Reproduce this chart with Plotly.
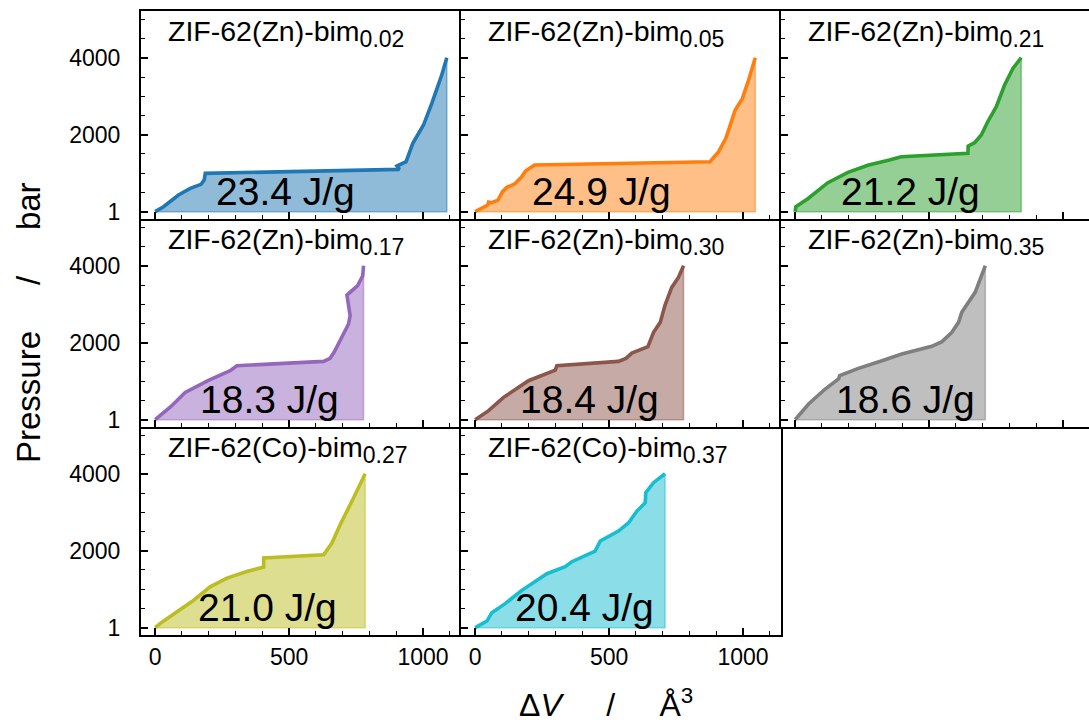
import plotly.graph_objects as go

# ---- data: volume change (Å^3) vs. pressure (bar) for each framework ----
formulas = ["ZIF-62(Zn)-bim", "ZIF-62(Zn)-bim", "ZIF-62(Zn)-bim", "ZIF-62(Zn)-bim",
            "ZIF-62(Zn)-bim", "ZIF-62(Zn)-bim", "ZIF-62(Co)-bim", "ZIF-62(Co)-bim"]
bim_fraction = ["0.02", "0.05", "0.21", "0.17", "0.30", "0.35", "0.27", "0.37"]
energies = ["23.4 J/g", "24.9 J/g", "21.2 J/g", "18.3 J/g", "18.4 J/g", "18.6 J/g", "21.0 J/g", "20.4 J/g"]
colors = ["#1f77b4", "#ff7f0e", "#2ca02c", "#9467bd", "#8c564b", "#7f7f7f", "#bcbd22", "#17becf"]

dv_zn002 = [0, 31, 87, 131, 171, 183, 187, 529, 912, 903, 937, 962, 1002, 1033, 1052, 1070, 1089]
p_zn002 = [1, 130, 433, 606, 710, 823, 996, 1040, 1100, 1186, 1299, 1775, 2252, 2815, 3161, 3551, 4000]

dv_zn005 = [0, 31, 47, 50, 62, 85, 102, 118, 147, 172, 189, 222, 877, 909, 936, 971, 998, 1021, 1046]
p_zn005 = [1, 113, 173, 250, 234, 303, 520, 632, 719, 892, 1065, 1212, 1299, 1559, 1905, 2641, 2944, 3421, 4000]

dv_zn021 = [0, 2, 47, 122, 197, 271, 352, 396, 645, 646, 670, 695, 719, 751, 782, 813, 844]
p_zn021 = [1, 130, 338, 753, 1022, 1204, 1342, 1429, 1516, 1707, 1793, 1992, 2338, 2728, 3291, 3724, 4000]

dv_zn017 = [0, 58, 112, 199, 280, 305, 629, 653, 668, 685, 703, 722, 728, 716, 756, 775, 778]
p_zn017 = [1, 338, 710, 1022, 1273, 1403, 1516, 1594, 1750, 1966, 2226, 2486, 2702, 3239, 3482, 3741, 4000]

dv_zn030 = [0, 50, 106, 199, 299, 305, 535, 563, 585, 645, 666, 691, 709, 734, 759, 778]
p_zn030 = [1, 234, 580, 1013, 1290, 1403, 1516, 1594, 1732, 1897, 2269, 2529, 2979, 3438, 3698, 4000]

dv_zn035 = [0, 50, 112, 162, 166, 236, 324, 398, 510, 548, 585, 610, 622, 672, 710]
p_zn035 = [1, 407, 797, 1057, 1144, 1334, 1533, 1707, 1906, 2027, 2269, 2529, 2789, 3309, 4000]

dv_co027 = [0, 19, 68, 137, 205, 268, 342, 405, 405, 629, 660, 691, 741, 784]
p_co027 = [1, 113, 348, 679, 1062, 1288, 1462, 1575, 1810, 1897, 2201, 2680, 3376, 4000]

dv_co037 = [0, 44, 62, 112, 174, 268, 336, 361, 448, 467, 535, 573, 604, 635, 637, 666, 709]
p_co037 = [1, 173, 390, 624, 970, 1403, 1585, 1715, 1992, 2252, 2512, 2728, 3031, 3248, 3508, 3768, 4000]

dv_series = [dv_zn002, dv_zn005, dv_zn021, dv_zn017, dv_zn030, dv_zn035, dv_co027, dv_co037]
p_series = [p_zn002, p_zn005, p_zn021, p_zn017, p_zn030, p_zn035, p_co027, p_co037]

# energy label centres (Å^3) inside each panel
label_x = [485, 472, 430, 426, 425, 411, 419, 407]
label_p = 534

x_ticks = [0, 500, 1000]
y_ticks = [1, 2000, 4000]
y_ticktext = ["1", "2000", "4000"]

# ---- layout geometry (pixels) ----
W, H = 1089, 723
ML, MT, MB = 141, 11, 88
plot_w = W - ML
plot_h = H - MT - MB
col_w = 320
row_h = plot_h / 3
x_min = -53
px_per_dv = col_w / 1195.0
y_range = [-190, 5215]

FONT = "Liberation Sans, Arial, sans-serif"
SP = "\u00a0"


def rgba(hex_color, a):
    h = hex_color.lstrip("#")
    r, g, b = int(h[0:2], 16), int(h[2:4], 16), int(h[4:6], 16)
    return f"rgba({r},{g},{b},{a})"


fig = go.Figure()
layout = dict(
    width=W, height=H,
    margin=dict(l=ML, r=0, t=MT, b=MB, pad=0),
    paper_bgcolor="white", plot_bgcolor="white",
    showlegend=False,
    font=dict(family=FONT, color="black"),
)
annotations = []

for i in range(8):
    row, col = divmod(i, 3)
    n = i + 1
    xa = "xaxis" if n == 1 else f"xaxis{n}"
    ya = "yaxis" if n == 1 else f"yaxis{n}"
    xr = "x" if n == 1 else f"x{n}"
    yr = "y" if n == 1 else f"y{n}"

    x0 = col * col_w
    x1 = min(x0 + col_w, plot_w)
    width_px = x1 - x0
    xd = [x0 / plot_w, x1 / plot_w]
    yd = [1 - (row + 1) * row_h / plot_h, 1 - row * row_h / plot_h]
    x_rng = [x_min, x_min + width_px / px_per_dv]

    show_x_labels = row == 2
    show_y_labels = col == 0
    # frame edges shared with a neighbouring panel are drawn only once
    top_edge = row == 0
    right_edge = (i == 7)

    layout[xa] = dict(
        domain=xd, range=x_rng, anchor=yr,
        showline=True, linewidth=2, linecolor="black", mirror=top_edge,
        ticks="inside", ticklen=7, tickwidth=1.6, tickcolor="black",
        tickvals=x_ticks, showticklabels=show_x_labels,
        tickfont=dict(size=23, family=FONT, color="black"),
        ticklabelstandoff=0,
        minor=dict(tickvals=list(range(0, 1200, 100)), ticks="inside", ticklen=4,
                   tickwidth=1.4, tickcolor="black", showgrid=False),
        showgrid=False, zeroline=False,
    )
    layout[ya] = dict(
        domain=yd, range=y_range, anchor=xr,
        showline=True, linewidth=2, linecolor="black", mirror=right_edge,
        ticks="inside", ticklen=7, tickwidth=1.6, tickcolor="black",
        tickvals=y_ticks, ticktext=y_ticktext, showticklabels=show_y_labels,
        tickfont=dict(size=23, family=FONT, color="black"),
        ticklabelstandoff=14,
        minor=dict(tickvals=list(range(0, 5500, 500)), ticks="inside", ticklen=4,
                   tickwidth=1.4, tickcolor="black", showgrid=False),
        showgrid=False, zeroline=False,
    )

    dv = dv_series[i]
    p = p_series[i]
    c = colors[i]

    # shaded area between the curve and p = 1 bar
    fig.add_trace(go.Scatter(
        x=dv + [dv[-1], dv[0], dv[0]], y=p + [1, 1, p[0]],
        xaxis=xr, yaxis=yr, mode="lines", fill="toself",
        fillcolor=rgba(c, 0.5), line=dict(color=rgba(c, 0.5), width=1.5),
        hoverinfo="skip",
    ))
    # compression curve
    fig.add_trace(go.Scatter(
        x=dv, y=p, xaxis=xr, yaxis=yr, mode="lines",
        line=dict(color=c, width=3.6),
    ))

    title = (f"{formulas[i]}<sub><span style='font-size:23px'>{bim_fraction[i]}</span></sub>")
    annotations.append(dict(
        x=40, y=4640, xref=xr, yref=yr, text=title, showarrow=False,
        xanchor="left", yanchor="middle", font=dict(size=28.5, family=FONT, color="black"),
    ))
    annotations.append(dict(
        x=label_x[i], y=label_p, xref=xr, yref=yr, text=energies[i], showarrow=False,
        xanchor="center", yanchor="middle", font=dict(size=39, family=FONT, color="black"),
    ))

# shared axis titles
annotations.append(dict(
    x=(28 - ML) / plot_w, y=0.5, xref="paper", yref="paper",
    text=f"Pressure{SP * 5}/{SP * 5}bar", textangle=-90, showarrow=False,
    xanchor="center", yanchor="middle", font=dict(size=33, family=FONT, color="black"),
))
annotations.append(dict(
    x=(606 - ML) / plot_w, y=-(703 - MT - plot_h) / plot_h, xref="paper", yref="paper",
    text=f"\u0394<i>V</i>{SP * 5}/{SP * 5}\u00c5<sup>3</sup>", showarrow=False,
    xanchor="center", yanchor="middle", font=dict(size=32, family=FONT, color="black"),
))

layout["annotations"] = annotations
fig.update_layout(**layout)
fig.write_html("out.html")
